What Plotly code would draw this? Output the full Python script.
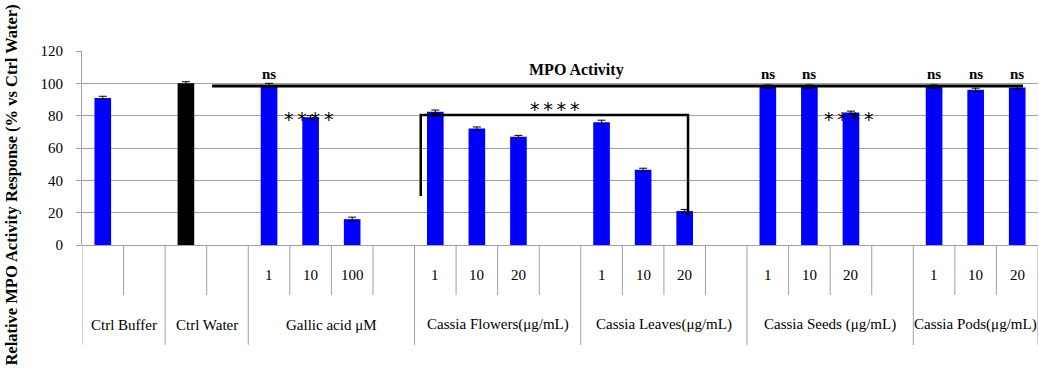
import plotly.graph_objects as go

# ---- data ----
groups = ["Ctrl Buffer", "Ctrl Water", "Gallic acid μM", "Cassia Flowers(μg/mL)",
          "Cassia Leaves(μg/mL)", "Cassia Seeds (μg/mL)", "Cassia Pods(μg/mL)"]
group_slots = [2, 2, 4, 4, 4, 4, 3]
inner_labels = ["", "", "", "", "1", "10", "100", "", "1", "10", "20", "",
                "1", "10", "20", "", "1", "10", "20", "", "1", "10", "20"]
values = [91, None, 100, None, 99, 79, 16, None, 82.5, 72, 67, None,
          76, 46.5, 21, None, 98, 98, 82, None, 98, 96, 97.5]
errors = [1, 0, 1, 0, 1, 1, 1.2, 0, 1, 1, 0.8, 0, 1.2, 1, 1, 0, 1, 1, 0.8, 0, 1, 1, 1]
colors = ["#0000FF", "#0000FF", "#000000"] + ["#0000FF"] * 20
ns_idx = [4, 16, 17, 20, 21, 22]
star_idx = [5, 18]

serif = "Liberation Serif"
fig = go.Figure()
xs = list(range(len(values)))
fig.add_trace(go.Bar(
    x=xs, y=values, width=0.4, marker=dict(color=colors, line=dict(width=0)),
    error_y=dict(type="data", array=errors, color="black", thickness=1, width=4),
    showlegend=False))

grid = "#a0a0a0"
shapes = []
annotations = []
# slot divider lines
edges = []
pos = 0
for n in group_slots:
    edges.append(pos)
    pos += n
edges.append(pos)
for b in range(pos + 1):
    long = b in edges
    shapes.append(dict(type="line", xref="x", yref="paper", x0=b - 0.5, x1=b - 0.5,
                       y0=0, y1=-0.515 if long else -0.258,
                       line=dict(color=grid, width=1)))
# inner labels
for i, lab in enumerate(inner_labels):
    if lab:
        annotations.append(dict(x=i, y=-0.155, xref="x", yref="paper", text=lab,
                                xanchor="center", yanchor="middle",
                                showarrow=False, font=dict(family=serif, size=15, color="black")))
# group labels
for g, (s, e) in zip(groups, zip(edges[:-1], edges[1:])):
    annotations.append(dict(x=(s + e - 1) / 2, y=-0.412, xref="x", yref="paper", text=g,
                            xanchor="center", yanchor="middle",
                            showarrow=False, font=dict(family=serif, size=15, color="black")))
# ns labels
for i in ns_idx:
    annotations.append(dict(x=i, y=105.5, xref="x", yref="y", text="<b>ns</b>", showarrow=False,
                            xanchor="center", yanchor="middle",
                            font=dict(family=serif, size=15, color="black")))
stars = "*\u2009*\u2009*\u2009*"
star_font = dict(family="DejaVu Sans", size=19, color="black")
for i in star_idx:
    annotations.append(dict(x=i - 0.05, y=78, xref="x", yref="y", text=stars, showarrow=False,
                            xanchor="center", yanchor="middle", font=star_font))
annotations.append(dict(x=10.87, y=84, xref="x", yref="y", text=stars, showarrow=False,
                        xanchor="center", yanchor="middle", font=star_font))
annotations.append(dict(x=11.4, y=108, xref="x", yref="y", text="<b>MPO Activity</b>", showarrow=False,
                        xanchor="center", yanchor="middle",
                        font=dict(family=serif, size=16, color="black")))
# long reference line
shapes.append(dict(type="line", xref="x", yref="y", x0=2.63, x1=22.14, y0=98.3, y1=98.3,
                   line=dict(color="black", width=3)))
# bracket
shapes.append(dict(type="path", xref="x", yref="y",
                   path="M 7.65 30.3 L 7.65 80.4 L 14.08 80.4 L 14.08 18",
                   line=dict(color="black", width=2.5)))
# y title
annotations.append(dict(x=-0.0735, y=0.31, xref="paper", yref="paper",
                        xanchor="center", yanchor="middle",
                        text="<b>Relative MPO Activity Response (% vs Ctrl Water)</b>",
                        textangle=-90, showarrow=False,
                        font=dict(family=serif, size=16.5, color="black")))

fig.update_layout(
    width=1039, height=369,
    margin=dict(l=82, r=1, t=51, b=124, autoexpand=False),
    plot_bgcolor="white", paper_bgcolor="white",
    shapes=shapes, annotations=annotations,
    xaxis=dict(range=[-0.5, 22.5], showticklabels=False, showgrid=False, zeroline=False,
               showline=False, ticks=""),
    yaxis=dict(range=[0, 120], tickvals=[0, 20, 40, 60, 80, 100, 120], showgrid=True,
               gridcolor=grid, gridwidth=1, zeroline=True, zerolinecolor=grid, zerolinewidth=1,
               showline=True, linecolor=grid, ticks="outside", ticklen=5, tickcolor=grid,
               ticklabelstandoff=10, automargin=False,
               tickfont=dict(family=serif, size=15, color="black")),
)
fig.write_html("out.html", config={"displayModeBar": False},
               post_script="document.body.style.margin='0';document.body.style.padding='0';")
